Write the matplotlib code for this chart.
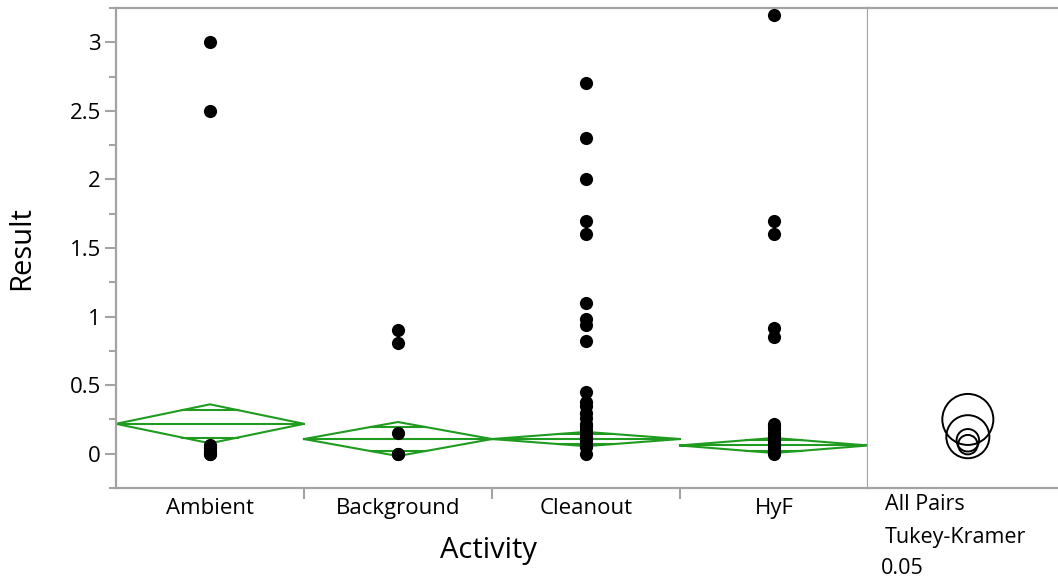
import numpy as np
import matplotlib.pyplot as plt
from matplotlib.patches import Circle

plt.rcParams['font.family'] = ['Open Sans', 'DejaVu Sans']

activities = ['Ambient', 'Background', 'Cleanout', 'HyF']

# raw results per activity
ambient = [3.0, 2.5, 0.06, 0.05, 0.04, 0.02, 0.01, 0.0, 0.0]
background = [0.9, 0.81, 0.15, 0.0, 0.0]
cleanout = [2.7, 2.3, 2.0, 1.7, 1.6, 1.1, 0.98, 0.94, 0.82, 0.45, 0.38, 0.35,
            0.3, 0.26, 0.22, 0.2, 0.17, 0.15, 0.12, 0.1, 0.08, 0.06, 0.05, 0.0]
hyf = [3.2, 1.7, 1.6, 0.92, 0.85, 0.22, 0.2, 0.18, 0.15, 0.13, 0.1, 0.08,
       0.06, 0.04, 0.02, 0.01, 0.0]
results = [ambient, background, cleanout, hyf]

# means diamonds: group mean and half width of the 95% CI
means = [0.218, 0.107, 0.107, 0.06]
ci_half = [0.142, 0.124, 0.052, 0.055]

# comparison circles (Tukey-Kramer): centre and radius
circle_centers = [0.25, 0.124, 0.098, 0.066]
circle_radii = [0.186, 0.157, 0.082, 0.071]

green = '#1f9c1f'
gray = '#a3a3a3'

fig = plt.figure(figsize=(10.58, 5.79), dpi=100)
ax = fig.add_axes([116/1058, 1-488/579, 752/1058, 480/579])
ax2 = fig.add_axes([868/1058, 1-488/579, 190/1058, 480/579])

for i, vals in enumerate(results):
    x = i + 0.5
    m, d = means[i], ci_half[i]
    # diamond
    ax.plot([i, x, i+1, x, i], [m, m+d, m, m-d, m], color=green, lw=1.5)
    ax.plot([i, i+1], [m, m], color=green, lw=1.5)
    # overlap marks
    o = d / np.sqrt(2)
    w = 0.5 * (1 - 1/np.sqrt(2))
    ax.plot([x-w, x+w], [m+o, m+o], color=green, lw=1.5)
    ax.plot([x-w, x+w], [m-o, m-o], color=green, lw=1.5)
    ax.scatter([x]*len(vals), vals, s=90, color='black', zorder=3, lw=0)

ax.set_xlim(0, 4)
ax.set_ylim(-0.25, 3.25)
ax.set_yticks(np.arange(0, 3.01, 0.5))
ax.set_yticklabels(['0', '0.5', '1', '1.5', '2', '2.5', '3'])
ax.set_yticks(np.arange(-0.25, 3.26, 0.5), minor=True)
ax.set_xticks([0.5, 1.5, 2.5, 3.5])
ax.set_xticklabels(activities)
ax.set_xticks([1, 2, 3], minor=True)
ax.tick_params(axis='y', which='major', length=8, width=1.5, color=gray,
               labelsize=16, pad=3)
ax.tick_params(axis='y', which='minor', length=5, width=1.5, color=gray)
ax.tick_params(axis='x', which='major', length=0, labelsize=16, pad=7)
ax.tick_params(axis='x', which='minor', length=8, width=1.5, color=gray)
for s in ax.spines.values():
    s.set_color(gray)
    s.set_linewidth(1.6)

ax.set_ylabel('Result', fontsize=21)
ax.yaxis.set_label_coords(-0.125, 0.5)
ax.yaxis.label.set_va('center')
ax.set_xlabel('Activity', fontsize=21)
ax.xaxis.set_label_coords(0.495, -0.13)
ax.xaxis.label.set_va('center')

# comparison circles panel, same y scale, equal pixel scale in x
ax2.set_ylim(-0.25, 3.25)
ax2.set_xlim(0, 190/137.14)
for c, r in zip(circle_centers, circle_radii):
    ax2.add_patch(Circle((0.728, c), r, fill=False, ec='black', lw=1.4))
ax2.set_xticks([])
ax2.set_yticks([])
for s in ax2.spines.values():
    s.set_color(gray)
    s.set_linewidth(1.6)
ax2.spines['right'].set_visible(False)
ax2.spines['left'].set_visible(False)

fig.text(885/1058, 1-505/579, 'All Pairs', fontsize=15.5, va='center')
fig.text(885/1058, 1-537/579, 'Tukey-Kramer', fontsize=15.5, va='center')
fig.text(881/1058, 1-568/579, '0.05', fontsize=15.5, va='center')

fig.savefig('out.png', dpi=100)
